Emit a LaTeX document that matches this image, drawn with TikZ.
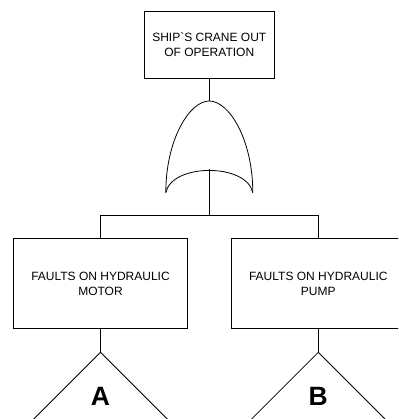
\documentclass[tikz,border=0pt]{standalone}
\usepackage{fontspec}
\setmainfont{Liberation Sans}
\begin{document}
\begin{tikzpicture}[x=1pt,y=-1pt,
  line width=0.8pt,
  event/.style={draw, rectangle, align=center, inner sep=0pt,
    font=\fontsize{12}{14.8}\selectfont},
  xfer/.style={font=\fontsize{26.5}{30}\selectfont\bfseries, inner sep=0pt}]
\clip (0,0) rectangle (398,419);

% events
\node[event, minimum width=130.3pt, minimum height=67.7pt] (top) at (209.3,44.8)
  {SHIP\textasciigrave S CRANE OUT\\OF OPERATION};
\node[event, minimum width=174.4pt, minimum height=90.4pt] (motor) at (100.5,283.5)
  {FAULTS ON HYDRAULIC\\MOTOR};
\node[event, minimum width=174.4pt, minimum height=90.4pt] (pump) at (318.3,283.5)
  {FAULTS ON HYDRAULIC\\PUMP};

% OR gate
\coordinate (gtop) at (209.3,101);
\coordinate (gl) at (165.8,192.7);
\coordinate (gr) at (252.8,192.7);
\coordinate (gin) at (209.3,169.5);
\draw (gl) .. controls (165.8,140) and (189.3,101) .. (gtop)
      .. controls (229.3,101) and (252.8,140) .. (gr);
\draw (gl) .. controls (171.8,163) and (246.8,163) .. (gr);

% connectors
\draw (top.south) -- (gtop);
\coordinate (busL) at (motor.north |- 0,215);
\coordinate (busR) at (pump.north |- 0,215);
\draw (gin) -- (gin |- busL);
\draw (busL) -- (busR);
\draw (busL) -- (motor.north);
\draw (busR) -- (pump.north);

% transfer triangles
\coordinate (ta) at (100.5,352.3);
\coordinate (tb) at (318.3,352.3);
\draw (motor.south) -- (ta);
\draw (pump.south) -- (tb);
\draw ([shift={(-80,80)}]ta) -- (ta) -- ([shift={(80,80)}]ta);
\draw ([shift={(-80,80)}]tb) -- (tb) -- ([shift={(80,80)}]tb);
\node[xfer] (la) at (100.5,396.3) {A};
\node[xfer] (lb) at (318.3,396.3) {B};
\end{tikzpicture}
\end{document}
